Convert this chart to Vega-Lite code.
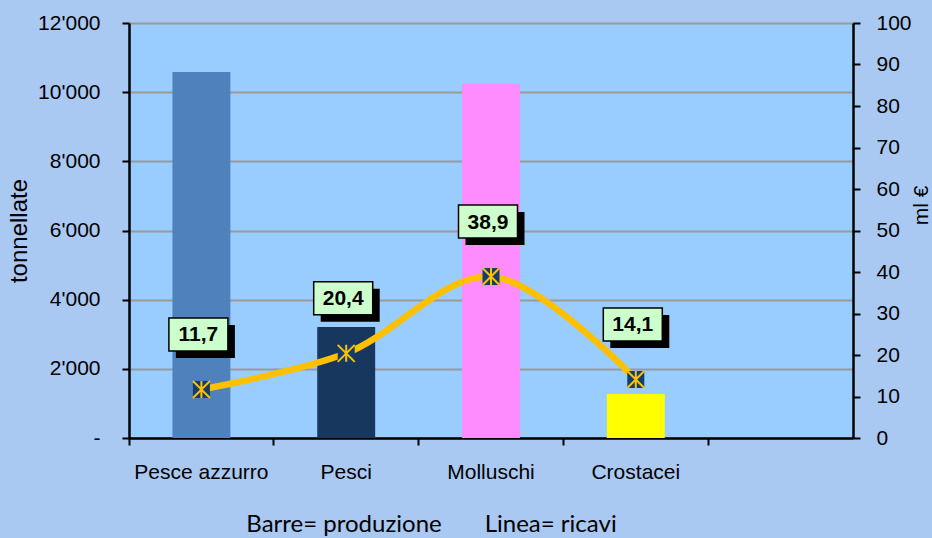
{
  "$schema": "https://vega.github.io/schema/vega-lite/v6.json",
  "width": 724,
  "height": 415,
  "autosize": {"type": "none"},
  "padding": {"left": 129, "top": 23, "right": 79, "bottom": 100},
  "background": "#A9C9F2",
  "config": {
    "view": {"fill": "#99CCFF", "stroke": null},
    "axis": {
      "labelFont": "Liberation Sans",
      "labelFontSize": 21,
      "labelColor": "#000000",
      "titleFont": "Liberation Sans",
      "titleFontWeight": "normal",
      "titleFontSize": 24,
      "titleColor": "#000000",
      "domainColor": "#000000",
      "domainWidth": 2.5,
      "tickColor": "#000000",
      "tickWidth": 2,
      "tickSize": 7
    }
  },
  "data": {
    "values": [
      {"categoria": "Pesce azzurro", "tonnellate": 10580, "ricavi": 11.7, "etichetta": "11,7"},
      {"categoria": "Pesci", "tonnellate": 3210, "ricavi": 20.4, "etichetta": "20,4"},
      {"categoria": "Molluschi", "tonnellate": 10240, "ricavi": 38.9, "etichetta": "38,9"},
      {"categoria": "Crostacei", "tonnellate": 1270, "ricavi": 14.1, "etichetta": "14,1"}
    ]
  },
  "encoding": {
    "x": {
      "field": "categoria",
      "type": "nominal",
      "sort": null,
      "scale": {"domain": ["Pesce azzurro", "Pesci", "Molluschi", "Crostacei", " "], "padding": 0},
      "axis": {
        "bandPosition": 0,
        "labelAngle": 0,
        "labelPadding": 16,
        "title": "Barre= produzione\u00a0\u00a0\u00a0\u00a0\u00a0\u00a0\u00a0Linea= ricavi",
        "titleFont": "Lato",
        "titleFontSize": 24,
        "titleX": 302,
        "titleY": 86,
        "titleBaseline": "middle",
        "titleAlign": "center"
      }
    }
  },
  "layer": [
    {
      "mark": {"type": "bar", "width": {"band": 0.4}},
      "encoding": {
        "y": {
          "field": "tonnellate",
          "type": "quantitative",
          "scale": {"domain": [0, 12000], "nice": false},
          "axis": {
            "orient": "left",
            "title": "tonnellate",
            "values": [0, 2000, 4000, 6000, 8000, 10000, 12000],
            "labelExpr": "datum.value == 0 ? '-' : replace(format(datum.value, ','), ',', \"'\")",
            "labelPadding": 22,
            "titlePadding": 6,
            "grid": true,
            "gridColor": "#9A9A9A",
            "gridWidth": 2
          }
        },
        "color": {
          "field": "categoria",
          "type": "nominal",
          "scale": {
            "domain": ["Pesce azzurro", "Pesci", "Molluschi", "Crostacei"],
            "range": ["#4F81BD", "#17375E", "#FF8CFF", "#FFFF00"]
          },
          "legend": null
        }
      }
    },
    {
      "encoding": {
        "y": {
          "field": "ricavi",
          "type": "quantitative",
          "scale": {"domain": [0, 100], "nice": false},
          "axis": {
            "orient": "right",
            "title": "ml €",
            "titleAngle": -90,
            "titleFontSize": 21,
            "titleBaseline": "middle",
            "titleX": 68,
            "titleY": 182,
            "values": [0, 10, 20, 30, 40, 50, 60, 70, 80, 90, 100],
            "labelPadding": 16,
            "grid": false
          }
        }
      },
      "layer": [
        {
          "mark": {"type": "line", "interpolate": "catmull-rom", "color": "#FFC000", "strokeWidth": 6.5}
        },
        {
          "mark": {"type": "point", "shape": "square", "filled": true, "size": 289, "color": "#123D6E", "opacity": 1}
        },
        {
          "mark": {"type": "point", "shape": "M0,-1L0,1M-1,-1L1,1M-1,1L1,-1", "filled": false, "size": 289, "stroke": "#FFC000", "strokeWidth": 2, "opacity": 1}
        },
        {
          "mark": {"type": "point", "shape": "M-1,-0.56L1,-0.56L1,0.56L-1,0.56Z", "filled": true, "size": 3481, "color": "#000000", "opacity": 1, "xOffset": 4, "yOffset": -48}
        },
        {
          "mark": {"type": "point", "shape": "M-1,-0.56L1,-0.56L1,0.56L-1,0.56Z", "filled": true, "size": 3481, "fill": "#CCFFCC", "stroke": "#000000", "strokeWidth": 1.5, "opacity": 1, "xOffset": -3, "yOffset": -55}
        },
        {
          "mark": {"type": "text", "font": "Liberation Sans", "fontSize": 21, "fontWeight": "bold", "color": "#000000", "baseline": "middle", "align": "center", "xOffset": -3, "yOffset": -54},
          "encoding": {"text": {"field": "etichetta"}}
        }
      ]
    }
  ],
  "resolve": {"scale": {"y": "independent", "color": "independent"}}
}
